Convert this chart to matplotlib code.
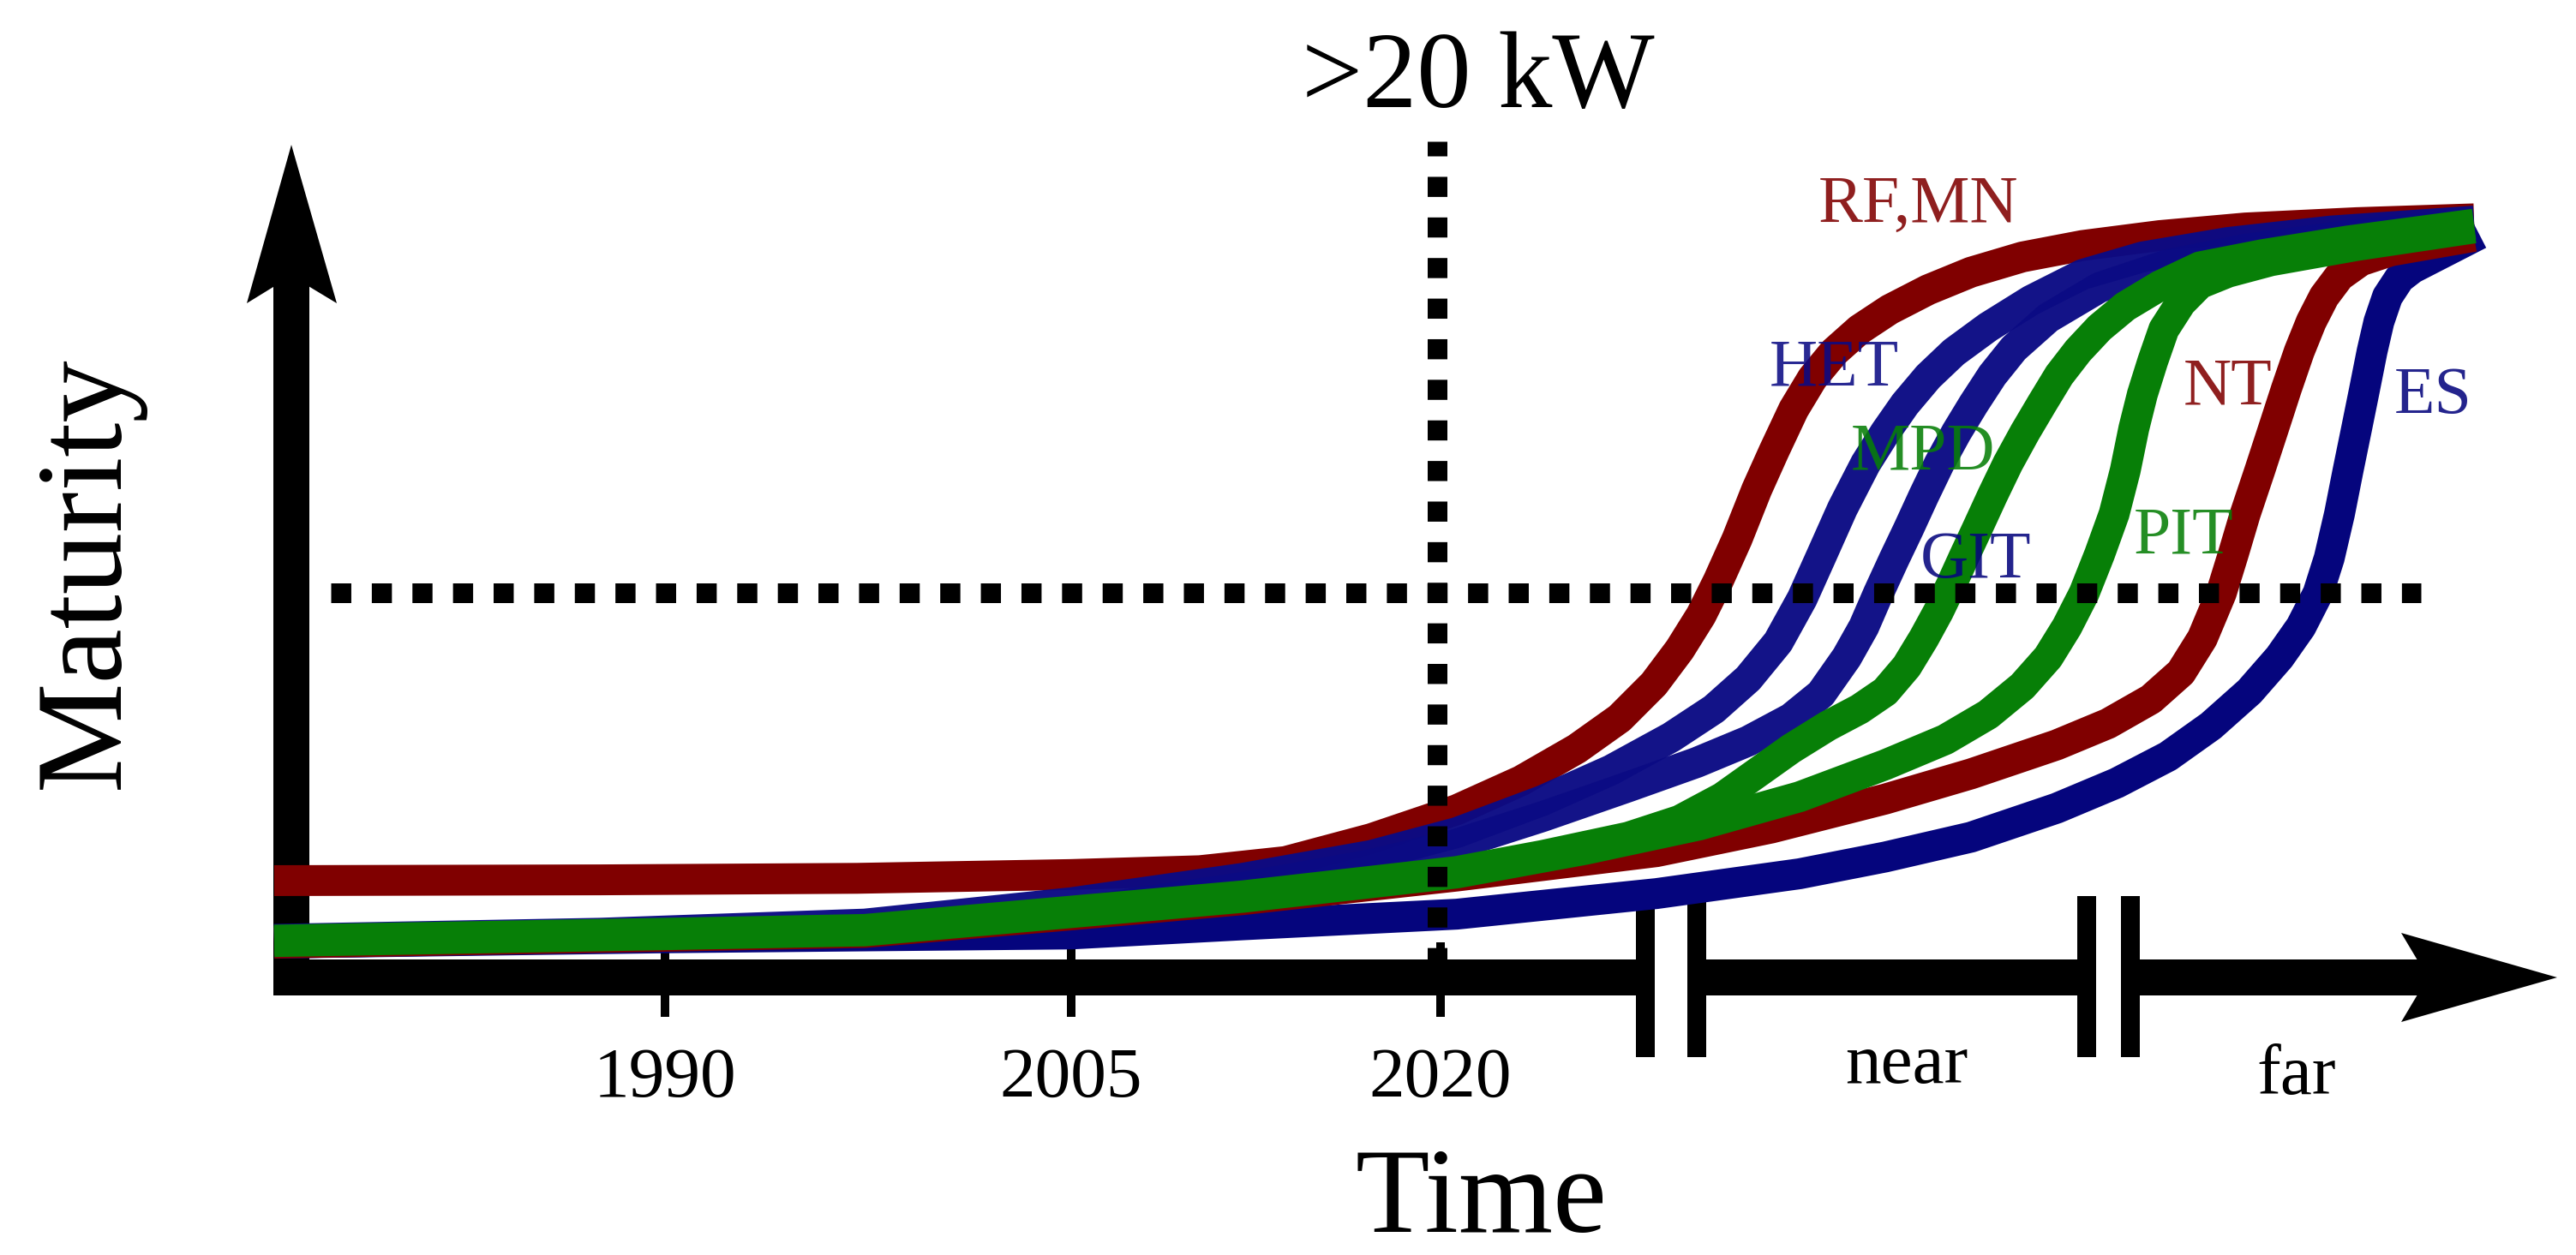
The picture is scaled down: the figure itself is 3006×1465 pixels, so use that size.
import matplotlib
matplotlib.use("Agg")
import matplotlib.pyplot as plt
from matplotlib.patches import Polygon

# ---------------- data (time index, maturity) ----------------
RF_MN_T = [320, 700, 1000, 1250, 1400, 1500, 1600, 1700, 1775, 1840, 1890, 1930, 1960, 1985,
           2005, 2027, 2050, 2070, 2093, 2115, 2140, 2170, 2205, 2250, 2300, 2360, 2430, 2520,
           2620, 2750, 2887]
RF_MN_M = [.127, .128, .130, .135, .140, .152, .182, .220, .258, .300, .340, .385, .430, .475,
           .520, .575, .640, .690, .745, .786, .820, .850, .876, .902, .925, .945, .960, .973,
           .983, .990, .995]

HET_T = [320, 700, 1009, 1250, 1450, 1600, 1700, 1800, 1880, 1950, 2000, 2040, 2075, 2103,
         2125, 2150, 2177, 2200, 2223, 2250, 2280, 2320, 2370, 2430, 2500, 2600, 2720, 2887]
HET_M = [.050, .058, .070, .098, .130, .160, .190, .232, .272, .315, .352, .392, .440, .497,
         .552, .615, .674, .715, .752, .788, .820, .853, .888, .922, .945, .964, .979, .992]

GIT_T = [320, 700, 1009, 1250, 1450, 1600, 1700, 1800, 1900, 1980, 2040, 2090, 2125, 2155,
         2175, 2192, 2210, 2227, 2245, 2263, 2283, 2303, 2325, 2350, 2390, 2450, 2530, 2620,
         2740, 2887]
GIT_M = [.045, .052, .062, .085, .118, .148, .175, .211, .250, .282, .310, .340, .372, .420,
         .460, .504, .548, .588, .632, .674, .715, .752, .790, .825, .865, .905, .935, .955,
         .973, .988]

MPD_T = [320, 776, 1009, 1250, 1450, 1700, 1800, 1900, 1960, 2010, 2050, 2090, 2133, 2170,
         2200, 2225, 2245, 2262, 2277, 2292, 2307, 2325, 2343, 2363, 2383, 2403, 2425, 2450,
         2480, 2520, 2567, 2640, 2740, 2887]
MPD_M = [.049, .058, .063, .087, .107, .139, .160, .184, .206, .236, .268, .300, .330, .352,
         .375, .408, .445, .480, .515, .552, .588, .632, .674, .715, .753, .790, .822, .852,
         .880, .907, .932, .948, .966, .988]

PIT_T = [320, 776, 1009, 1250, 1450, 1700, 1850, 1983, 2100, 2200, 2270, 2320, 2360, 2390,
         2412, 2432, 2450, 2467, 2480, 2490, 2500, 2512, 2525, 2545, 2567, 2600, 2650, 2750,
         2887]
PIT_M = [.047, .056, .061, .085, .105, .137, .168, .200, .237, .279, .312, .345, .382, .420,
         .460, .504, .555, .608, .665, .720, .765, .808, .850, .885, .910, .925, .940, .960,
         .983]

NT_T = [320, 776, 1009, 1250, 1450, 1700, 1933, 2067, 2200, 2300, 2400, 2460, 2510, 2545,
        2570, 2592, 2606, 2620, 2637, 2653, 2668, 2683, 2697, 2712, 2730, 2755, 2790, 2887]
NT_M = [.045, .054, .059, .082, .102, .133, .165, .196, .234, .267, .305, .333, .365, .400,
        .445, .504, .555, .608, .665, .720, .772, .821, .860, .893, .920, .940, .953, .972]

ES_T = [320, 776, 1250, 1450, 1700, 1933, 2100, 2200, 2300, 2400, 2470, 2530, 2580, 2625,
        2660, 2685, 2705, 2718, 2730, 2740, 2750, 2759, 2768, 2776, 2786, 2800, 2815, 2893]
ES_M = [.045, .052, .057, .069, .083, .110, .136, .158, .184, .222, .255, .290, .330, .375,
        .420, .460, .504, .550, .608, .665, .720, .770, .821, .860, .893, .917, .930, .975]

THRESHOLD = 0.505
T_NOW = 1677

TICK_POS = [776, 1250, 1681]
TICK_LABELS = ["1990", "2005", "2020"]
BREAKS = [(1920, 1980), (2435, 2486)]
ERA_POS = [2225, 2680]
ERA_LABELS = ["near", "far"]

# ---------------- layout helpers ----------------
W, H, DPI = 3006, 1465, 100
PT = 72.0 / DPI
Y0_PX, PX_PER_M = 1141.0, 890.0


def m_of(ypx):
    return (Y0_PX - ypx) / PX_PER_M


RED = "#800000"
NAVY = "#05057d"
BLUE = "#0b0b84"
GREEN = "#077f07"

plt.rcParams["font.family"] = ["Liberation Serif", "DejaVu Serif"]

fig = plt.figure(figsize=(W / DPI, H / DPI), dpi=DPI)
ax = fig.add_axes([0, 0, 1, 1])
ax.set_xlim(0, W)
ax.set_ylim(m_of(H), m_of(0))
ax.axis("off")

AX_LW = 42 * PT
x_arrow_notch, x_arrow_tip = 2833, 2984

# x axis segments (broken at the break marks)
seg_edges = [320]
for a, b in BREAKS:
    seg_edges += [a - 11, b + 11]
seg_edges.append(x_arrow_notch)
for i in range(0, len(seg_edges), 2):
    ax.plot([seg_edges[i], seg_edges[i + 1]], [0, 0], color="black", lw=AX_LW,
            solid_capstyle="butt", zorder=2)
# x arrow head
ax.add_patch(Polygon([(x_arrow_tip, 0), (2802, m_of(Y0_PX - 52)), (x_arrow_notch, 0),
                      (2802, m_of(Y0_PX + 52))], closed=True, color="black", lw=0, zorder=2))
# y axis
ax.plot([340, 340], [m_of(1162), m_of(322)], color="black", lw=AX_LW,
        solid_capstyle="butt", zorder=2)
ax.add_patch(Polygon([(340, m_of(169)), (288, m_of(354)), (340, m_of(322)),
                      (393, m_of(354))], closed=True, color="black", lw=0, zorder=2))
# ticks
for p in TICK_POS:
    ax.plot([p, p], [m_of(1100), m_of(1187)], color="black", lw=10 * PT,
            solid_capstyle="butt", zorder=2)
# break marks
for a, b in BREAKS:
    for p in (a, b):
        ax.plot([p, p], [m_of(1046), m_of(1234)], color="black", lw=22 * PT,
                solid_capstyle="butt", zorder=2)

# curves
curves = [
    (ES_T, ES_M, NAVY, 1.0),
    (RF_MN_T, RF_MN_M, RED, 1.0),
    (HET_T, HET_M, BLUE, 0.97),
    (GIT_T, GIT_M, BLUE, 0.97),
    (NT_T, NT_M, RED, 1.0),
    (MPD_T, MPD_M, GREEN, 1.0),
    (PIT_T, PIT_M, GREEN, 1.0),
]
for k, (t, m, c, a) in enumerate(curves):
    ax.plot(t, m, color=c, alpha=a, lw=36 * PT, solid_capstyle="butt",
            solid_joinstyle="round", zorder=3 + k * 0.1)

# dotted guide lines
DOT_LW = 23 * PT
ax.plot([386, 2825], [THRESHOLD, THRESHOLD], color="black", lw=DOT_LW,
        linestyle=(0, (1.02, 1.04)), dash_capstyle="butt", zorder=5)
ax.plot([T_NOW, T_NOW], [m_of(165), m_of(1120)], color="black", lw=DOT_LW,
        linestyle=(0.28, (1.02, 1.04)), dash_capstyle="butt", zorder=5)

# curve labels
labels = [
    ("RF,MN", 2239, 259, RED),
    ("HET", 2140, 450, BLUE),
    ("MPD", 2244, 548, GREEN),
    ("GIT", 2306, 674, NAVY),
    ("PIT", 2548, 646, GREEN),
    ("NT", 2600, 471, RED),
    ("ES", 2839, 482, NAVY),
]
for txt, x, yb, c in labels:
    ax.text(x, m_of(yb), txt, color=c, alpha=0.88, fontsize=56, ha="center",
            va="baseline", zorder=6)

# axis texts
for p, lab in zip(TICK_POS, TICK_LABELS):
    ax.text(p, m_of(1280), lab, fontsize=60, ha="center", va="baseline", zorder=6)
ax.text(ERA_POS[0], m_of(1264), ERA_LABELS[0], fontsize=60, ha="center", va="baseline")
ax.text(ERA_POS[1], m_of(1277), ERA_LABELS[1], fontsize=60, ha="center", va="baseline")
ax.text(1728, m_of(1438), "Time", fontsize=102, ha="center", va="baseline")
ax.text(138, m_of(668), "Maturity", fontsize=104, ha="center", va="baseline",
        rotation=90, rotation_mode="anchor")
ax.text(1725, m_of(125), ">20 kW", fontsize=91, ha="center", va="baseline")

fig.savefig("out.png", dpi=DPI, facecolor="white")
